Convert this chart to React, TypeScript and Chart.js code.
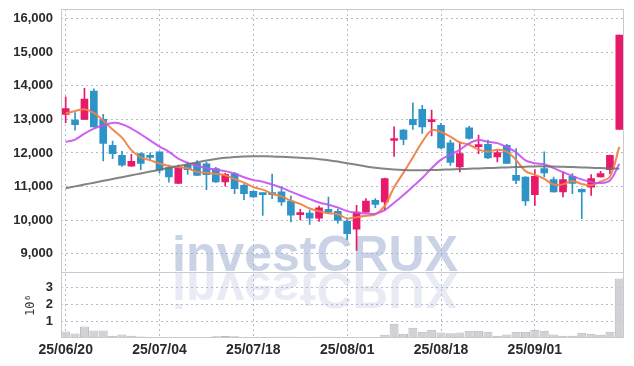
import React, { useEffect, useRef } from 'react';
import { Chart, registerables } from 'chart.js';

Chart.register(...registerables);

const dates = [
  '25/06/20', '25/06/23', '25/06/24', '25/06/25', '25/06/26', '25/06/27', '25/06/30',
  '25/07/01', '25/07/02', '25/07/03', '25/07/04', '25/07/07', '25/07/08', '25/07/09', '25/07/10', '25/07/11',
  '25/07/14', '25/07/15', '25/07/16', '25/07/17', '25/07/18', '25/07/21', '25/07/22', '25/07/23', '25/07/24', '25/07/25',
  '25/07/28', '25/07/29', '25/07/30', '25/07/31', '25/08/01', '25/08/04', '25/08/05', '25/08/06', '25/08/07', '25/08/08',
  '25/08/11', '25/08/12', '25/08/13', '25/08/14', '25/08/18', '25/08/19', '25/08/20', '25/08/21', '25/08/22',
  '25/08/25', '25/08/26', '25/08/27', '25/08/28', '25/08/29', '25/09/01', '25/09/02', '25/09/03', '25/09/04', '25/09/05',
  '25/09/08', '25/09/09', '25/09/10', '25/09/11', '25/09/12',
];

const opens = [13145, 12975, 12995, 13840, 13000, 12230, 11930, 11610, 11980, 11930, 12030, 11565, 11090, 11640, 11700, 11680, 11535, 11135, 11385, 11040, 10860, 10800, 10820, 10840, 10570, 10165, 10210, 10060, 10320, 10260, 9975, 9735, 10240, 10590, 10540, 12370, 12680, 13000, 13300, 12930, 12825, 12300, 11585, 12745, 12190, 12260, 11880, 12230, 11335, 11285, 10760, 11535, 11205, 10840, 11305, 10920, 10985, 11285, 11505, 12700];
const highs = [13670, 13200, 13920, 13910, 13150, 12350, 12050, 11960, 12000, 12000, 12030, 11640, 11640, 11730, 11770, 11730, 11570, 11400, 11420, 11080, 10870, 10810, 11375, 10990, 10720, 10320, 10290, 10420, 10690, 10320, 10025, 10440, 10640, 10640, 11250, 12775, 12700, 13490, 13420, 13275, 12880, 12380, 12330, 12795, 12530, 12380, 12100, 12260, 12130, 11300, 11505, 12030, 11285, 11435, 11385, 10930, 11355, 11455, 11940, 15510];
const lows = [12900, 12680, 12990, 12770, 11760, 11830, 11600, 11610, 11500, 11800, 11400, 11130, 11085, 11360, 11330, 10910, 11120, 11010, 10790, 10610, 10680, 10140, 10640, 10440, 9950, 10010, 9875, 9960, 10190, 9910, 9420, 9100, 10230, 10370, 10290, 11900, 12250, 12700, 12580, 12505, 12130, 11630, 11435, 12410, 11980, 11830, 11730, 11680, 11085, 10440, 10440, 11285, 10830, 10690, 10790, 10045, 10740, 11280, 11385, 12700];
const closes = [13320, 12845, 13600, 12775, 12280, 11980, 11635, 11750, 11685, 11865, 11485, 11285, 11580, 11500, 11335, 11355, 11135, 11365, 10940, 10790, 10690, 10760, 10760, 10540, 10150, 10220, 10060, 10370, 10240, 9995, 9600, 10240, 10570, 10470, 11240, 12390, 12400, 12845, 12775, 12950, 12150, 11715, 11980, 12430, 12220, 11850, 12010, 11685, 11185, 10570, 11305, 11405, 10840, 11205, 11090, 10840, 11235, 11385, 11930, 15510];

// volume in millions of shares
const volumes = [0.39, 0.27, 0.69, 0.45, 0.45, 0.13, 0.21, 0.13, 0.09, 0.05, 0.05, 0.04, 0.05, 0.05, 0.04, 0.05, 0.1, 0.12, 0.1, 0.04, 0.04, 0.04, 0.07, 0.07, 0.07, 0.04, 0.04, 0.07, 0.07, 0.06, 0.06, 0.06, 0.05, 0.05, 0.19, 0.85, 0.25, 0.61, 0.37, 0.49, 0.33, 0.29, 0.33, 0.43, 0.43, 0.37, 0.13, 0.21, 0.37, 0.37, 0.49, 0.43, 0.21, 0.13, 0.13, 0.31, 0.25, 0.19, 0.37, 3.54];

const ma5 = [13175, 13250, 13300, 13190, 12964, 12696, 12454, 12084, 11866, 11783, 11684, 11614, 11580, 11543, 11437, 11411, 11381, 11338, 11226, 11117, 10984, 10909, 10788, 10708, 10580, 10486, 10346, 10268, 10208, 10177, 10053, 10089, 10129, 10175, 10424, 10982, 11414, 11869, 12330, 12672, 12624, 12487, 12314, 12245, 12099, 12039, 12098, 12039, 11790, 11460, 11351, 11230, 11061, 11065, 11169, 11076, 11042, 11151, 11296, 12180];
const ma10 = [12328, 12398, 12577, 12726, 12825, 12894, 12855, 12726, 12557, 12374, 12190, 12034, 11832, 11705, 11610, 11548, 11498, 11459, 11385, 11277, 11198, 11145, 11063, 10967, 10849, 10735, 10628, 10528, 10458, 10379, 10270, 10218, 10199, 10192, 10301, 10518, 10752, 10999, 11253, 11548, 11803, 11951, 12092, 12288, 12386, 12332, 12293, 12177, 12018, 11780, 11695, 11664, 11550, 11428, 11315, 11214, 11136, 11106, 11181, 11675];
const maLong = [10950, 11005, 11060, 11115, 11170, 11225, 11280, 11335, 11390, 11445, 11500, 11555, 11610, 11665, 11720, 11775, 11820, 11855, 11880, 11895, 11900, 11900, 11895, 11885, 11870, 11855, 11840, 11815, 11785, 11745, 11695, 11650, 11600, 11560, 11530, 11510, 11495, 11485, 11485, 11490, 11500, 11510, 11520, 11530, 11540, 11550, 11560, 11570, 11580, 11590, 11600, 11600, 11595, 11590, 11580, 11570, 11560, 11550, 11540, 11530];

const priceTicks = [9000, 10000, 11000, 12000, 13000, 14000, 15000, 16000];
const volumeTicks = [1, 2, 3];

const UP = '#e8196b';
const DOWN = '#2e94c8';
const GRID = 'rgba(165,175,200,0.85)';
const LABEL_FONT = "'Liberation Sans', Arial, sans-serif";

const candleColors = opens.map((o, i) => (closes[i] >= o ? UP : DOWN));

const watermarkPlugin = {
  id: 'watermark',
  beforeDraw(chart: any) {
    const { ctx, chartArea } = chart;
    const yS = chart.scales.y;
    const vS = chart.scales.yv;
    if (!yS || !vS) return;
    const text = 'investCRUX';
    ctx.save();
    ctx.fillStyle = '#ffffff';
    ctx.fillRect(0, 0, chart.width, chart.height);
    ctx.font = "bold 50px 'Liberation Sans', Arial, sans-serif";
    const w = ctx.measureText(text).width;
    const sx = 286 / w;
    const x0 = chartArea.left + 111;
    const base = yS.bottom - 1;
    ctx.textBaseline = 'alphabetic';
    ctx.save();
    ctx.beginPath();
    ctx.rect(chartArea.left, chartArea.top, chartArea.right - chartArea.left, yS.bottom - chartArea.top);
    ctx.clip();
    ctx.translate(x0, base);
    ctx.scale(sx, 1);
    ctx.fillStyle = 'rgba(150,165,205,0.5)';
    ctx.fillText(text, 0, 0);
    ctx.restore();
    ctx.save();
    ctx.beginPath();
    ctx.rect(chartArea.left, vS.top, chartArea.right - chartArea.left, vS.bottom - vS.top);
    ctx.clip();
    ctx.translate(x0, yS.bottom + 1);
    ctx.scale(sx, -1);
    ctx.fillStyle = 'rgba(150,165,205,0.22)';
    ctx.fillText(text, 0, 0);
    ctx.restore();
    ctx.restore();
  },
  afterDraw(chart: any) {
    const { ctx, chartArea } = chart;
    const yS = chart.scales.y;
    ctx.save();
    ctx.strokeStyle = '#c9c9cf';
    ctx.lineWidth = 1;
    ctx.strokeRect(chartArea.left + 0.5, chartArea.top + 0.5, chartArea.right - chartArea.left - 1, chartArea.bottom - chartArea.top - 1);
    ctx.beginPath();
    ctx.moveTo(chartArea.left, Math.round(yS.bottom) + 0.5);
    ctx.lineTo(chartArea.right, Math.round(yS.bottom) + 0.5);
    ctx.stroke();
    ctx.restore();
  },
};

const fitY = (s: any) => {
  s.width = 53;
  s.paddingTop = 0;
  s.paddingBottom = 0;
};

export default function App() {
  const ref = useRef<HTMLCanvasElement | null>(null);

  useEffect(() => {
    if (!ref.current) return;
    const lineDs = (label: string, data: number[], color: string) => ({
      type: 'line' as const,
      label,
      data,
      yAxisID: 'y',
      borderColor: color,
      borderWidth: 2,
      pointRadius: 0,
      tension: 0.35,
      fill: false,
      order: 0,
    });
    const chart = new Chart(ref.current, {
      type: 'bar',
      data: {
        labels: dates,
        datasets: [
          lineDs('MA long', maLong, 'rgba(110,110,110,0.85)'),
          lineDs('MA10', ma10, 'rgba(200,80,240,0.9)'),
          lineDs('MA5', ma5, 'rgba(240,130,70,0.95)'),
          {
            type: 'bar',
            label: 'body',
            data: opens.map((o, i) => [o, closes[i]]),
            yAxisID: 'y',
            backgroundColor: candleColors,
            borderWidth: 0,
            barThickness: 7,
            minBarLength: 2,
            grouped: false,
            order: 2,
          } as any,
          {
            type: 'bar',
            label: 'wick',
            data: lows.map((l, i) => [l, highs[i]]),
            yAxisID: 'y',
            backgroundColor: candleColors,
            borderWidth: 0,
            barThickness: 1,
            grouped: false,
            order: 3,
          } as any,
          {
            type: 'bar',
            label: 'volume',
            data: volumes,
            yAxisID: 'yv',
            backgroundColor: 'rgba(205,205,210,0.9)',
            borderColor: 'rgba(185,185,192,1)',
            borderWidth: 1,
            barPercentage: 1,
            categoryPercentage: 0.96,
            grouped: false,
            order: 4,
          } as any,
        ],
      },
      options: {
        animation: false,
        responsive: true,
        maintainAspectRatio: false,
        layout: { padding: { top: 1, right: 2, left: 0, bottom: 0 } },
        plugins: { legend: { display: false }, tooltip: { enabled: false } },
        scales: {
          x: {
            type: 'category',
            offset: true,
            grid: {
              offset: false,
              drawTicks: false,
              color: (c: any) => (c.index % 10 === 0 ? GRID : 'rgba(0,0,0,0)'),
            },
            border: { display: false, dash: [2, 3] },
            ticks: {
              autoSkip: false,
              maxRotation: 0,
              padding: 4,
              color: '#2a2a2a',
              font: { family: LABEL_FONT, size: 14, weight: 'bold' },
              callback: (_v: any, i: number) => (i % 10 === 0 ? dates[i] : ''),
            },
            afterFit: (s: any) => { s.height = 20; },
          },
          yv: {
            type: 'linear',
            position: 'left',
            stack: 'panels',
            stackWeight: 1,
            min: 0,
            max: 3.92,
            afterBuildTicks: (s: any) => { s.ticks = volumeTicks.map((v) => ({ value: v })); },
            grid: { drawTicks: false, color: GRID },
            border: { display: false, dash: [2, 3] },
            ticks: {
              autoSkip: false,
              padding: 8,
              color: '#2a2a2a',
              font: { family: LABEL_FONT, size: 13, weight: 'bold' },
              callback: (v: any) => String(v),
            },
            title: {
              display: true,
              text: '10⁶',
              color: '#333',
              font: { family: "'DejaVu Sans Mono', monospace", size: 12 },
              padding: { top: 16, bottom: 0 },
            },
            afterFit: fitY,
          },
          y: {
            type: 'linear',
            position: 'left',
            stack: 'panels',
            stackWeight: 4,
            min: 8452,
            max: 16283,
            afterBuildTicks: (s: any) => { s.ticks = priceTicks.map((v) => ({ value: v })); },
            grid: { drawTicks: false, color: GRID },
            border: { display: false, dash: [2, 3] },
            ticks: {
              autoSkip: false,
              padding: 8,
              color: '#2a2a2a',
              font: { family: LABEL_FONT, size: 13, weight: 'bold' },
              callback: (v: any) => Number(v).toLocaleString('en-US'),
            },
            afterFit: fitY,
          },
        },
      } as any,
      plugins: [watermarkPlugin],
    });
    return () => chart.destroy();
  }, []);

  return (
    <div style={{ width: 618, height: 350, position: 'relative' }}>
      <canvas ref={ref} />
    </div>
  );
}
